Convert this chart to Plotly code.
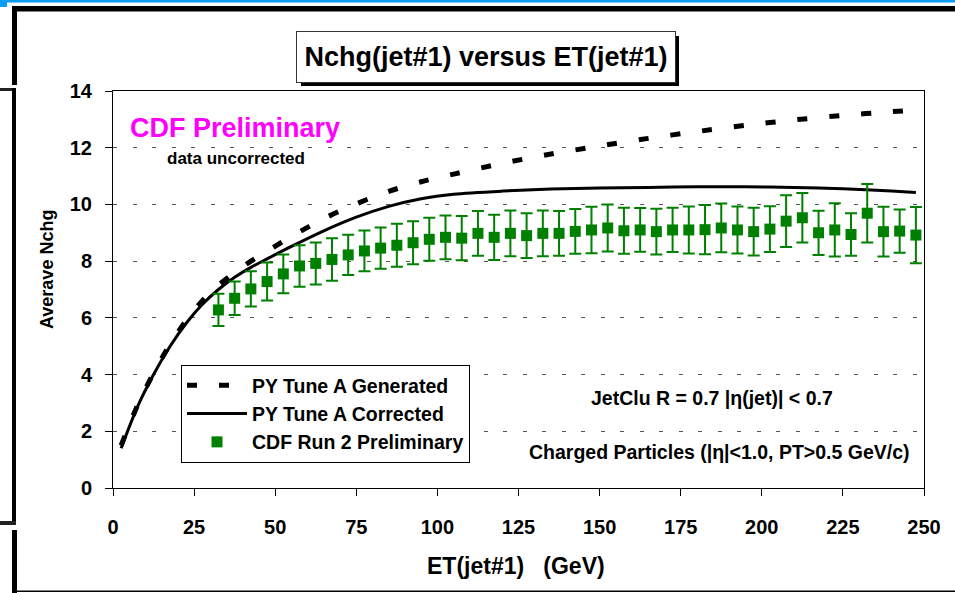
import plotly.graph_objects as go

# ---------------- data ----------------
gen_x = [2.5, 7.5, 12.5, 17.5, 22.5, 27.5, 32.5, 37.5, 42.5, 47.5, 55, 65, 75, 85, 95,
         105, 120, 135, 150, 165, 180, 195, 210, 225, 240, 247.5]
gen_y = [1.5, 2.9, 4.05, 5.05, 5.9, 6.6, 7.15, 7.6, 8.0, 8.35, 8.87, 9.5, 10.02, 10.46, 10.8,
         11.07, 11.45, 11.78, 12.06, 12.33, 12.57, 12.79, 12.98, 13.14, 13.27, 13.33]

cor_x = [2.5, 7.5, 12.5, 17.5, 22.5, 27.5, 32.5, 37.5, 42.5, 47.5, 55, 65, 75, 85, 95,
         105, 120, 135, 150, 165, 180, 195, 210, 225, 240, 247.5]
cor_y = [1.4, 2.85, 4.0, 4.98, 5.8, 6.47, 7.0, 7.43, 7.78, 8.08, 8.52, 9.07, 9.55, 9.93, 10.2,
         10.36, 10.47, 10.54, 10.58, 10.6, 10.62, 10.62, 10.6, 10.55, 10.47, 10.42]

data_x = [32.5, 37.5, 42.5, 47.5, 52.5, 57.5, 62.5, 67.5, 72.5, 77.5, 82.5, 87.5, 92.5, 97.5,
          102.5, 107.5, 112.5, 117.5, 122.5, 127.5, 132.5, 137.5, 142.5, 147.5, 152.5, 157.5,
          162.5, 167.5, 172.5, 177.5, 182.5, 187.5, 192.5, 197.5, 202.5, 207.5, 212.5, 217.5,
          222.5, 227.5, 232.5, 237.5, 242.5, 247.5]
data_y = [6.28, 6.69, 7.02, 7.28, 7.55, 7.83, 7.92, 8.06, 8.22, 8.36, 8.46, 8.56, 8.65, 8.77,
          8.84, 8.81, 8.98, 8.84, 8.98, 8.90, 8.98, 8.98, 9.05, 9.10, 9.17, 9.07,
          9.10, 9.04, 9.10, 9.10, 9.11, 9.17, 9.10, 9.04, 9.13, 9.41, 9.53, 9.00,
          9.10, 8.94, 9.69, 9.04, 9.06, 8.92]
data_err = [0.57, 0.59, 0.62, 0.67, 0.68, 0.73, 0.74, 0.75, 0.71, 0.72, 0.73, 0.76, 0.76, 0.76,
            0.77, 0.78, 0.79, 0.80, 0.81, 0.79, 0.81, 0.79, 0.79, 0.82, 0.83, 0.81,
            0.77, 0.81, 0.78, 0.83, 0.87, 0.86, 0.83, 0.84, 0.81, 0.91, 0.87, 0.78,
            0.94, 0.75, 1.03, 0.88, 0.76, 0.99]

x_ticks = [0, 25, 50, 75, 100, 125, 150, 175, 200, 225, 250]
y_ticks = [0, 2, 4, 6, 8, 10, 12, 14]

FONT = "Liberation Sans, Arial, sans-serif"

# plot area in pixels
L, R, T, B = 113, 924, 91, 488
W, H = 955, 593


def px(x):
    return (x - L) / (R - L)


def py(y):
    return (B - y) / (B - T)


fig = go.Figure()
fig.add_trace(go.Scatter(
    x=gen_x, y=gen_y, mode="lines", name="PY Tune A Generated",
    line=dict(color="black", width=5, dash="10px,22px", shape="spline", smoothing=0.8)))
fig.add_trace(go.Scatter(
    x=cor_x, y=cor_y, mode="lines", name="PY Tune A Corrected",
    line=dict(color="black", width=3, shape="spline", smoothing=0.8)))
fig.add_trace(go.Scatter(
    x=data_x, y=data_y, mode="markers", name="CDF Run 2 Preliminary",
    marker=dict(symbol="square", size=11, color="#008000"),
    error_y=dict(type="data", array=data_err, visible=True, color="#008000",
                 thickness=2, width=6)))

shapes = []


def rect(x0, y0, x1, y1, color):
    shapes.append(dict(type="rect", xref="paper", yref="paper",
                       x0=px(x0), x1=px(x1), y0=py(y1), y1=py(y0),
                       fillcolor=color, line=dict(width=0), layer="above"))


# page decoration
rect(0, 0, W, 2.5, "#0a9cf5")
rect(0, 0, 7, 7, "#0a9cf5")
rect(12, 6, W, 11.5, "black")
rect(12, 6, 17, 85, "black")
rect(0, 88, 16, 91, "#222222")
rect(12, 88, 16, 525, "black")
rect(0, 521, 16, 525, "#222222")
rect(12, 530, 17, H, "black")
rect(17, 590.5, W, 592, "black")
# title drop shadow
rect(301, 36, 679, 86, "black")

annotations = [
    dict(text="Nchg(jet#1) versus ET(jet#1)", x=px(486), y=py(57), xref="paper", yref="paper",
         showarrow=False, xanchor="center", yanchor="middle",
         font=dict(family=FONT, size=27, color="black", weight="bold"),
         bgcolor="white", bordercolor="#333333", borderwidth=1, width=376, height=48),
    dict(text="CDF Preliminary", x=px(235), y=py(128), xref="paper", yref="paper",
         showarrow=False, xanchor="center", yanchor="middle",
         font=dict(family=FONT, size=27, color="#ff00ff", weight="bold")),
    dict(text="data uncorrected", x=px(236), y=py(158), xref="paper", yref="paper",
         showarrow=False, xanchor="center", yanchor="middle",
         font=dict(family=FONT, size=17, color="black", weight="bold")),
    dict(text="JetClu R = 0.7 |η(jet)| < 0.7", x=px(712), y=py(398), xref="paper", yref="paper",
         showarrow=False, xanchor="center", yanchor="middle",
         font=dict(family=FONT, size=19.5, color="black", weight="bold")),
    dict(text="Charged Particles (|η|<1.0, PT>0.5 GeV/c)", x=px(912), y=py(452),
         xref="paper", yref="paper", showarrow=False, xanchor="right", yanchor="middle",
         font=dict(family=FONT, size=19.5, color="black", weight="bold")),
    dict(text="Averave Nchg", x=px(47), y=py(270), xref="paper", yref="paper",
         showarrow=False, xanchor="center", yanchor="middle", textangle=-90,
         font=dict(family=FONT, size=18, color="black", weight="bold")),
    dict(text="ET(jet#1)\u00a0\u00a0\u00a0(GeV)", x=px(516), y=py(566), xref="paper", yref="paper",
         showarrow=False, xanchor="center", yanchor="middle",
         font=dict(family=FONT, size=23, color="black", weight="bold")),
]

fig.update_layout(
    width=W, height=H,
    margin=dict(l=L, r=W - R, t=T, b=H - B),
    paper_bgcolor="white", plot_bgcolor="white",
    font=dict(family=FONT, color="black"),
    shapes=shapes, annotations=annotations,
    showlegend=True,
    legend=dict(x=px(181), y=py(365), xanchor="left", yanchor="top",
                bgcolor="white", bordercolor="black", borderwidth=1,
                font=dict(family=FONT, size=19.5, color="black", weight="bold"),
                itemwidth=60, tracegroupgap=0),
    xaxis=dict(range=[0, 250], tickvals=x_ticks, ticktext=[str(v) for v in x_ticks],
               showgrid=False, zeroline=False, showline=True, linecolor="black", linewidth=1,
               mirror=True, ticks="outside", ticklen=7, tickcolor="black",
               tickfont=dict(family=FONT, size=20, color="black", weight="bold"),
               ticklabelstandoff=14),
    yaxis=dict(range=[0, 14], tickvals=y_ticks, ticktext=[str(v) for v in y_ticks],
               showgrid=True, gridcolor="#555555", gridwidth=1, griddash="4px,15.5px",
               zeroline=False, showline=True, linecolor="black", linewidth=1,
               mirror=True, ticks="outside", ticklen=7, tickcolor="black",
               tickfont=dict(family=FONT, size=20, color="black", weight="bold"),
               ticklabelstandoff=9),
)

fig.write_html("out.html")
